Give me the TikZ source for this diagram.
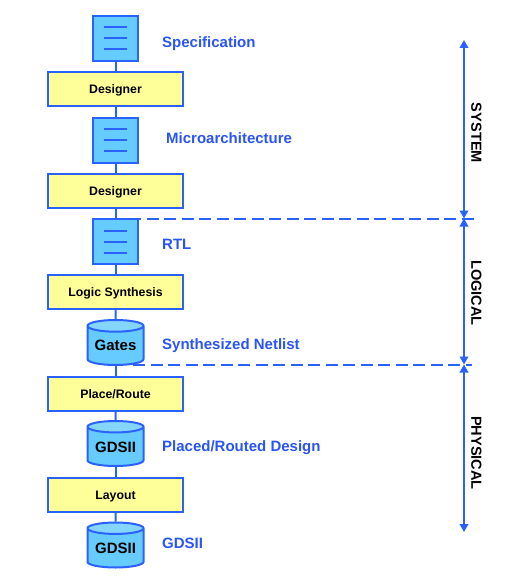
\documentclass[tikz,border=0pt]{standalone}
\usepackage{fontspec}
\setmainfont{Liberation Sans}
\usetikzlibrary{shapes.geometric,arrows.meta}
\definecolor{ln}{HTML}{2B62FF}
\definecolor{lab}{HTML}{2A55F5}
\definecolor{docf}{HTML}{66CCFF}
\definecolor{cyltop}{HTML}{85D6FF}
\definecolor{boxf}{HTML}{FFFF99}
\tikzset{
  x=1pt,y=-1pt,
  wire/.style={draw=ln,line width=2pt},
  docbox/.style={draw=ln,line width=2pt,fill=docf,minimum width=45pt,minimum height=45pt,inner sep=0pt,
    path picture={
      \foreach \dy in {-11,0,11}
        \draw[ln,line width=2pt] ([xshift=-11.5pt,yshift=\dy pt]path picture bounding box.center) -- ++(23pt,0);
    }},
  stepbox/.style={draw=ln,line width=2pt,fill=boxf,minimum width=135pt,minimum height=34pt,inner sep=0pt,
    text height=10.5pt,text depth=0.7pt,
    font=\fontsize{12.3}{14}\selectfont\bfseries,text=black},
  drum/.style={cylinder,shape border rotate=90,aspect=0.28,draw=ln,line width=2pt,cylinder uses custom fill,
    cylinder body fill=docf,cylinder end fill=cyltop,minimum width=56pt,minimum height=45pt,inner sep=0pt,anchor=shape center,
    font=\fontsize{15}{16}\selectfont\bfseries,text=black},
  lbl/.style={anchor=west,inner sep=0pt,text=lab,font=\fontsize{15}{16}\selectfont\bfseries},
  side/.style={rotate=-90,inner sep=0pt,text=black,font=\fontsize{14.6}{16}\selectfont\bfseries},
  span/.style={draw=ln,line width=1.9pt,{Triangle[width=8.5pt,length=8pt]}-{Triangle[width=8.5pt,length=8pt]}},
  sep/.style={draw=ln,line width=2.2pt,dash pattern=on 12pt off 5.5pt},
}
\begin{document}
\begin{tikzpicture}
\useasboundingbox (0,0) rectangle (516,578);
\node[docbox] (d1) at (115.5,38.5) {};
\node[stepbox] (s1) at (115.5,89) {Designer};
\node[docbox] (d2) at (115.5,140) {};
\node[stepbox] (s2) at (115.5,191) {Designer};
\node[docbox] (d3) at (115.5,241.5) {};
\node[stepbox] (s3) at (115.5,292) {Logic Synthesis};
\node[drum,text depth=2pt] (c1) at (115.5,342.5) {Gates};
\node[stepbox] (s4) at (115.5,393.5) {Place/Route};
\node[drum] (c2) at (115.5,443.5) {GDSII};
\node[stepbox] (s5) at (115.5,494.5) {Layout};
\node[drum] (c3) at (115.5,545) {GDSII};
\foreach \a/\b in {d1/s1,s1/d2,d2/s2,s2/d3,d3/s3,s3/c1,c1/s4,s4/c2,c2/s5,s5/c3}
  \draw[wire] (\a) -- (\b);
\node[lbl] (t1) at (162,43.5) {Specification};
\node[lbl] (t2) at (166,138.5) {Microarchitecture};
\node[lbl] (t3) at (162,244.5) {RTL};
\node[lbl] (t4) at (162,345.5) {Synthesized Netlist};
\node[lbl] (t5) at (162,447.5) {Placed/Routed Design};
\node[lbl] (t6) at (162,543) {GDSII};
\coordinate (a0) at (464,40);
\coordinate (a1) at (464,218.5);
\coordinate (a2) at (464,364.5);
\coordinate (a3) at (464,532);
\draw[span] (a0) -- (a1);
\draw[span] (a1) -- (a2);
\draw[span] (a2) -- (a3);
\coordinate (e1) at (476,218.8);
\coordinate (e2) at (472,364.8);
\coordinate (b1) at (129,218.8);
\coordinate (b2) at (133,364.8);
\draw[sep] (b1) -- (e1);
\draw[sep] (b2) -- (e2);
\node[side] (v1) at (476.5,133) {SYSTEM};
\node[side] (v2) at (476.5,293) {LOGICAL};
\node[side] (v3) at (476.5,453) {PHYSICAL};
\end{tikzpicture}
\end{document}
